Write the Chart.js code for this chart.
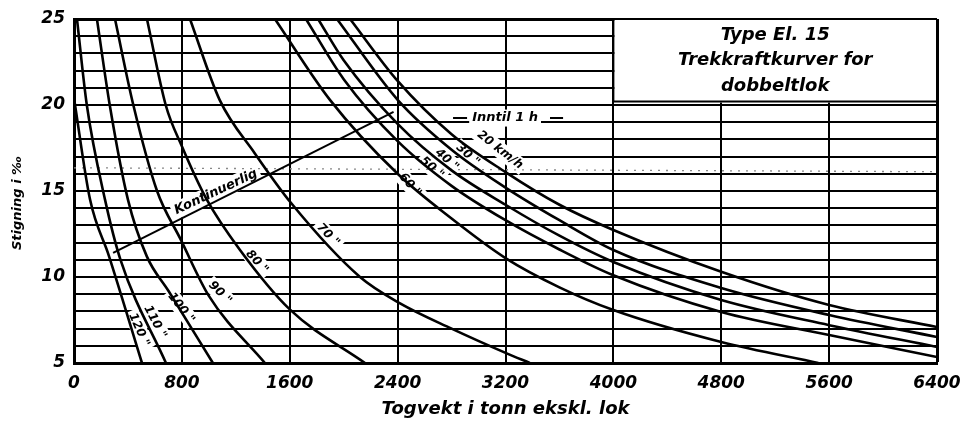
<!DOCTYPE html>
<html>
<head>
<meta charset="utf-8">
<script src="https://cdn.jsdelivr.net/npm/chart.js@4.4.1/dist/chart.umd.min.js"></script>
<style>
  html, body { margin: 0; padding: 0; background: #fff; }
  canvas { display: block; }
</style>
</head>
<body>
<canvas id="chart" width="965" height="425"></canvas>
<script>
// Trekkraftkurver, El. 15 dobbeltlok: [togvekt (tonn), stigning (promille)]
const curve120 = [[0, 20.4], [119, 14.5], [260, 11.2], [504, 5]];
const curve110 = [[22, 25], [95, 20], [230, 14.5], [345, 11.0], [682, 5]];
const curve100 = [[170, 25], [265, 20], [400, 14.5], [540, 11.2], [700, 9.2], [1030, 5]];
const curve90 = [[304, 25], [440, 20], [616, 15], [790, 12.2], [1000, 8.9], [1416, 5]];
const curve80 = [[541, 25], [680, 20], [800, 17.6], [986, 14.48], [1231, 11.57], [1602, 8.1], [2158, 5]];
const curve70 = [[860, 25], [1080, 20.3], [1340, 17.2], [1610, 14.3], [2121, 10], [2418, 8.47], [2800, 7.0], [3209, 5.56], [3380, 5]];
const curve60 = [[1490, 25], [1898, 20.3], [2400, 16.0], [2800, 13.4], [3200, 11.1], [3600, 9.4], [4000, 8.08], [4800, 6.22], [5520, 5]];
const curve50 = [[1720, 25], [2000, 21.5], [2400, 17.9], [2800, 15.3], [3200, 13.3], [3600, 11.6], [4000, 10.1], [4800, 7.97], [5600, 6.63], [6400, 5.35]];
const curve40 = [[1810, 25], [2000, 22.6], [2400, 18.9], [2800, 16.2], [3200, 14.2], [3600, 12.4], [4000, 10.87], [4800, 8.66], [5600, 7.2], [6400, 5.93]];
const curve30 = [[1950, 25], [2400, 20.3], [2800, 17.4], [3200, 15.2], [3600, 13.3], [4000, 11.57], [4800, 9.36], [5600, 7.79], [6400, 6.51]];
const curve20 = [[2047, 25], [2400, 21.4], [2800, 18.3], [3200, 16.1], [3600, 14.2], [4000, 12.73], [4800, 10.3], [5600, 8.37], [6400, 7.09]];

// kontinuerlig ytelse
const kontinuerlig = [[290, 11.4], [2370, 19.6]];
// prikket linje fra skanningen
const scanLine = [[0, 16.35], [6400, 16.12]];

const xTicks = [0, 800, 1600, 2400, 3200, 4000, 4800, 5600, 6400];
const yTickLabels = [5, 10, 15, 20, 25];

const curves = [curve120, curve110, curve100, curve90, curve80, curve70, curve60, curve50, curve40, curve30, curve20];

// label anchors in data units, rotation in degrees
const curveLabels = [
  { text: '120 "', x: 482, y: 6.92, rot: 66 },
  { text: '110 "', x: 601, y: 7.38, rot: 62 },
  { text: '100 "', x: 794, y: 8.2, rot: 52 },
  { text: '90 "', x: 1083, y: 9.07, rot: 45 },
  { text: '80 "', x: 1357, y: 10.87, rot: 48 },
  { text: '70 "', x: 1884, y: 12.44, rot: 46 },
  { text: '60 "', x: 2492, y: 15.35, rot: 48 },
  { text: '50 "', x: 2655, y: 16.34, rot: 42 },
  { text: '40 "', x: 2766, y: 16.8, rot: 42 },
  { text: '30 "', x: 2922, y: 17.09, rot: 42 },
  { text: '20 km/h', x: 3159, y: 17.38, rot: 38 }
];

const FONT = "'DejaVu Sans', sans-serif";
const font = (size) => ({ family: FONT, size: size, style: 'italic', weight: 'bold' });

function toXY(arr) { return arr.map(p => ({ x: p[0], y: p[1] })); }

const datasets = curves.map(c => ({
  data: toXY(c),
  showLine: true,
  borderColor: '#000',
  borderWidth: 2.6,
  pointRadius: 0,
  cubicInterpolationMode: 'monotone'
}));
datasets.push({
  data: toXY(kontinuerlig), showLine: true, borderColor: '#000', borderWidth: 2, pointRadius: 0
});
datasets.push({
  data: toXY(scanLine), showLine: true, borderColor: '#888', borderWidth: 1.3,
  borderDash: [2, 6], pointRadius: 0
});

function rotatedText(ctx, text, px, py, rot, size, bg) {
  ctx.save();
  ctx.translate(px, py);
  ctx.rotate(rot * Math.PI / 180);
  ctx.font = `italic bold ${size}px ${FONT}`;
  ctx.textAlign = 'center';
  ctx.textBaseline = 'middle';
  if (bg) {
    const w = ctx.measureText(text).width;
    ctx.fillStyle = '#fff';
    ctx.fillRect(-w / 2 - 3, -size / 2 - 2, w + 6, size + 4);
  }
  ctx.fillStyle = '#000';
  ctx.fillText(text, 0, 0);
  ctx.restore();
}

const annotations = {
  id: 'annotations',
  beforeDatasetsDraw(chart) {
    const { ctx, scales: { x, y } } = chart;

    // title box
    const bx0 = x.getPixelForValue(4000), bx1 = x.getPixelForValue(6400);
    const by0 = y.getPixelForValue(25), by1 = y.getPixelForValue(20.2);
    ctx.save();
    ctx.fillStyle = '#fff';
    ctx.fillRect(bx0 + 1, by0 + 1, bx1 - bx0 - 2, by1 - by0);
    ctx.strokeStyle = '#000';
    ctx.lineWidth = 2;
    ctx.beginPath();
    ctx.moveTo(bx0, by1); ctx.lineTo(bx1, by1);
    ctx.moveTo(bx0, by0); ctx.lineTo(bx0, by1);
    ctx.stroke();
    ctx.restore();
    const cx = (bx0 + bx1) / 2;
    rotatedText(ctx, 'Type El. 15', cx, by0 + 16, 0, 18, false);
    rotatedText(ctx, 'Trekkraftkurver for', cx, by0 + 41, 0, 18, false);
    rotatedText(ctx, 'dobbeltlok', cx, by0 + 67, 0, 18, false);

    // curve labels
    curveLabels.forEach(l => {
      rotatedText(ctx, l.text, x.getPixelForValue(l.x), y.getPixelForValue(l.y), l.rot, 12, true);
    });

    // Kontinuerlig
    rotatedText(ctx, 'Kontinuerlig', x.getPixelForValue(1053), y.getPixelForValue(14.94), -25, 13, true);

    // Inntil 1 h
    const iy = y.getPixelForValue(19.24);
    rotatedText(ctx, 'Inntil 1 h', x.getPixelForValue(3197), iy, 0, 13, true);
    ctx.save();
    ctx.strokeStyle = '#000';
    ctx.lineWidth = 2;
    ctx.beginPath();
    ctx.moveTo(x.getPixelForValue(2811), iy); ctx.lineTo(x.getPixelForValue(2915), iy);
    ctx.moveTo(x.getPixelForValue(3530), iy); ctx.lineTo(x.getPixelForValue(3627), iy);
    ctx.stroke();
    ctx.restore();
  },
  afterDraw(chart) {
    const { ctx } = chart;
    rotatedText(ctx, 'Stigning i ‰', 18, 203, -90, 13, false);
  }
};

new Chart(document.getElementById('chart'), {
  type: 'scatter',
  data: { datasets },
  options: {
    responsive: false,
    animation: false,
    devicePixelRatio: 1,
    layout: { padding: { top: 19, right: 28, bottom: 0, left: 0 } },
    plugins: { legend: { display: false }, tooltip: { enabled: false } },
    scales: {
      x: {
        type: 'linear',
        min: 0,
        max: 6400,
        afterFit(s) { s.height = 62; s.paddingLeft = 0; s.paddingRight = 0; },
        afterBuildTicks(s) { s.ticks = xTicks.map(v => ({ value: v })); },
        ticks: {
          color: '#000', padding: 10, font: font(17), maxRotation: 0, autoSkip: false,
          callback: v => String(v)
        },
        grid: { color: '#000', lineWidth: c => (c.tick && c.tick.value === 6400 ? 3 : 2), drawTicks: false },
        border: { color: '#000', width: 3 },
        title: { display: true, text: 'Togvekt i tonn ekskl. lok', color: '#000', font: font(18), padding: { top: 0, bottom: 5 } }
      },
      y: {
        type: 'linear',
        min: 5,
        max: 25,
        afterFit(s) { s.width = 74; s.paddingTop = 0; s.paddingBottom = 0; },
        ticks: {
          stepSize: 1, autoSkip: false, color: '#000', padding: 9, font: font(17),
          callback: v => (yTickLabels.includes(v) ? String(v) : '')
        },
        grid: { color: '#000', lineWidth: c => (c.tick && c.tick.value === 25 ? 3 : 2), drawTicks: false },
        border: { color: '#000', width: 3 }
      }
    }
  },
  plugins: [annotations]
});
</script>
</body>
</html>
